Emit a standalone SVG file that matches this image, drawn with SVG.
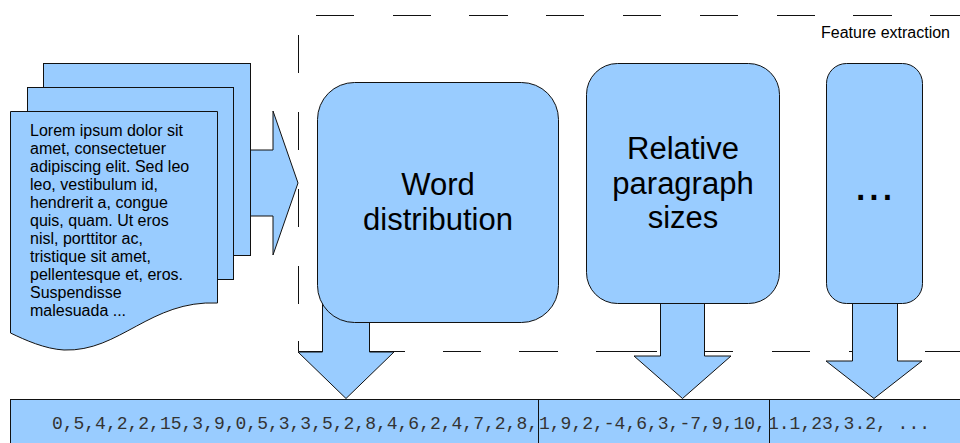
<svg xmlns="http://www.w3.org/2000/svg" width="960" height="443" viewBox="0 0 960 443">
<style>
.shape{fill:#99ccff;stroke:#111;stroke-width:1}
.dash{fill:none;stroke:#111;stroke-width:1}
.txt{font-family:"Liberation Sans",Arial,sans-serif;fill:#000}
.doc{font-size:16px}
.big{font-size:31px;text-anchor:middle}
.mono{font-family:"Liberation Mono","Courier New",monospace;font-size:18px;fill:#333}
</style>
<rect width="960" height="443" fill="#fff"/>
<g id="feature-extraction-frame">
<path class="dash" d="M316,15.5H354M393,15.5H431M469,15.5H508M546,15.5H584M623,15.5H661M700,15.5H738M777,15.5H815M853,15.5H892M930,15.5H960"/>
<path class="dash" d="M298.5,35V73M298.5,112V150M298.5,189V227M298.5,266V304M298.5,341V351.5H328"/>
<path class="dash" d="M367,351.5H405M443,351.5H481M519,351.5H558M596,351.5H657M695,351.5H733M772,351.5H810M849,351.5H887M925,351.5H960"/>
<text class="txt" x="950" y="38" font-size="16" text-anchor="end">Feature extraction</text>
</g>
<g id="connectors">
<path class="shape" d="M245,150H273V111L298,183L273,255V216H245Z"/>
<path class="shape" d="M322.5,290V352H298L346,398.5L394,352H369.5V290Z"/>
<path class="shape" d="M660.5,290V356H634L682.5,398.5L731,356H704.5V290Z"/>
<path class="shape" d="M852.5,290V361H826L874,398.5L922,361H897.5V290Z"/>
</g>
<g id="documents">
<rect class="shape" x="43.5" y="63.5" width="207" height="192"/>
<rect class="shape" x="27.5" y="87.5" width="206" height="192"/>
<path class="shape" d="M10.5,111.5H217.5V303C150,300 120,352 64,350C45,349 25,340 10.5,333Z"/>
<text class="txt doc">
<tspan x="30" y="136">Lorem ipsum dolor sit</tspan>
<tspan x="30" y="154">amet, consectetuer</tspan>
<tspan x="30" y="172">adipiscing elit. Sed leo</tspan>
<tspan x="30" y="190">leo, vestibulum id,</tspan>
<tspan x="30" y="208">hendrerit a, congue</tspan>
<tspan x="30" y="226">quis, quam. Ut eros</tspan>
<tspan x="30" y="244">nisl, porttitor ac,</tspan>
<tspan x="30" y="262">tristique sit amet,</tspan>
<tspan x="30" y="280">pellentesque et, eros.</tspan>
<tspan x="30" y="298">Suspendisse</tspan>
<tspan x="30" y="316">malesuada ...</tspan>
</text>
</g>
<g id="word-distribution">
<rect class="shape" x="317.5" y="82.5" width="241" height="240" rx="37" ry="37"/>
<text class="txt big"><tspan x="438" y="195">Word</tspan><tspan x="438" y="230">distribution</tspan></text>
</g>
<g id="relative-paragraph-sizes">
<rect class="shape" x="586.5" y="63.5" width="193" height="240" rx="31" ry="31"/>
<text class="txt big"><tspan x="683" y="159">Relative</tspan><tspan x="683" y="193.5">paragraph</tspan><tspan x="683" y="228">sizes</tspan></text>
</g>
<g id="more-features">
<rect class="shape" x="826.5" y="63.5" width="96" height="240" rx="20" ry="20"/>
<text class="txt" x="874" y="200" font-size="48" text-anchor="middle">...</text>
</g>
<g id="feature-vector">
<rect class="shape" x="10.5" y="399.5" width="970" height="60"/>
<path class="dash" d="M538.5,399.5V443M769.5,399.5V443"/>
<text class="mono" x="538" y="429" text-anchor="end">0,5,4,2,2,15,3,9,0,5,3,3,5,2,8,4,6,2,4,7,2,8,</text>
<text class="mono" x="539" y="429">1,9,2,-4,6,3,-7,9,10,</text>
<text class="mono" x="768" y="429">1.1,23,3.2, ...</text>
</g>
</svg>
